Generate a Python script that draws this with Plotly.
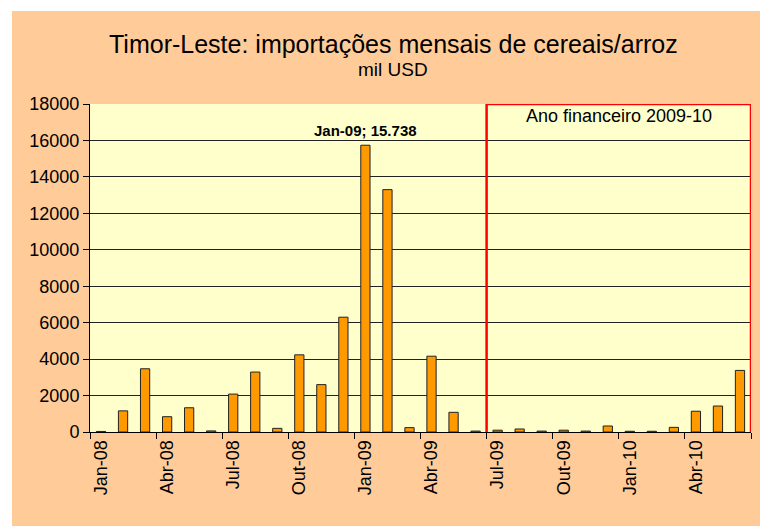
import plotly.graph_objects as go

months = ["Jan-08","Fev-08","Mar-08","Abr-08","Mai-08","Jun-08","Jul-08","Ago-08","Set-08","Out-08","Nov-08","Dez-08",
          "Jan-09","Fev-09","Mar-09","Abr-09","Mai-09","Jun-09","Jul-09","Ago-09","Set-09","Out-09","Nov-09","Dez-09",
          "Jan-10","Fev-10","Mar-10","Abr-10","Mai-10","Jun-10"]
values = [30, 1160, 3470, 840, 1330, 60, 2080, 3290, 200, 4235, 2600, 6300,
          15738, 13300, 240, 4160, 1080, 50, 100, 165, 50, 100, 50, 330,
          40, 40, 255, 1140, 1425, 3380]
tick_labels = ["Jan-08","Abr-08","Jul-08","Out-08","Jan-09","Abr-09","Jul-09","Out-09","Jan-10","Abr-10"]
tick_positions = [months.index(t) for t in tick_labels]
fiscal_start, fiscal_end = "Jul-09", "Jun-10"
peak_label = "Jan-09; 15.738"

xs = list(range(len(months)))
FONT = "Liberation Sans, Arial, sans-serif"

fig = go.Figure(go.Bar(
    x=xs, y=values, width=0.42,
    marker=dict(color="#FF9900", line=dict(color="#222222", width=1)),
    hovertext=months,
))

W_PLOT = 661.0
H_PLOT = 328.0
def px_x(p):  # reference pixel x -> paper
    return (p - 90) / W_PLOT
def px_y(p):  # reference pixel y -> paper
    return (432 - p) / H_PLOT

shapes = [
    dict(type="rect", xref="paper", yref="paper", x0=-0.3, x1=1.2, y0=px_y(11), y1=1.5,
         fillcolor="white", line=dict(width=0), layer="below"),
    dict(type="rect", xref="paper", yref="paper", x0=-0.3, x1=px_x(12), y0=-0.5, y1=1.5,
         fillcolor="white", line=dict(width=0), layer="below"),
    dict(type="rect", xref="x", yref="y",
         x0=months.index(fiscal_start) - 0.5, x1=months.index(fiscal_end) + 0.5,
         y0=-100, y1=18000, line=dict(color="#FF0000", width=2.5), fillcolor="rgba(0,0,0,0)"),
]

annotations = [
    dict(text="Timor-Leste: importações mensais de cereais/arroz", xref="paper", yref="paper",
         x=px_x(393), y=px_y(44), showarrow=False, font=dict(family=FONT, size=25, color="black"),
         xanchor="center", yanchor="middle"),
    dict(text="mil USD", xref="paper", yref="paper",
         x=px_x(393), y=px_y(70), showarrow=False, font=dict(family=FONT, size=19, color="black"),
         xanchor="center", yanchor="middle"),
    dict(text="Ano financeiro 2009-10", xref="x", yref="paper",
         x=(months.index(fiscal_start) + months.index(fiscal_end)) / 2, y=px_y(116), showarrow=False,
         font=dict(family=FONT, size=18, color="black"), xanchor="center", yanchor="middle"),
    dict(text="<b>" + peak_label + "</b>", xref="x", yref="paper",
         x=values.index(max(values)), y=px_y(131), showarrow=False,
         font=dict(family=FONT, size=15, color="black"), xanchor="center", yanchor="middle"),
]

fig.update_layout(
    width=760, height=518,
    margin=dict(l=82, r=17, t=96, b=94),
    paper_bgcolor="#FFCC99",
    plot_bgcolor="#FFFFCC",
    showlegend=False,
    shapes=shapes,
    annotations=annotations,
    font=dict(family=FONT, color="black"),
)
fig.update_xaxes(
    range=[-0.5, len(months) - 0.5],
    tickmode="array", tickvals=tick_positions, ticktext=tick_labels,
    tickangle=-90, tickfont=dict(family=FONT, size=18, color="black"),
    ticks="", showgrid=False, zeroline=False,
    showline=True, linecolor="black", linewidth=1,
    minor=dict(tickmode="array", tickvals=[p - 0.5 for p in tick_positions] + [len(months) - 0.5],
               ticks="outside", ticklen=6, tickcolor="black", tickwidth=1, showgrid=False),
)
fig.update_yaxes(
    range=[0, 18000], dtick=2000, tick0=0, tickformat="d",
    tickfont=dict(family=FONT, size=18, color="black"),
    ticks="outside", ticklen=6, tickcolor="black",
    showgrid=True, gridcolor="#222222", gridwidth=1,
    zeroline=False, showline=True, linecolor="black", linewidth=1,
)

fig.write_html("out.html")
